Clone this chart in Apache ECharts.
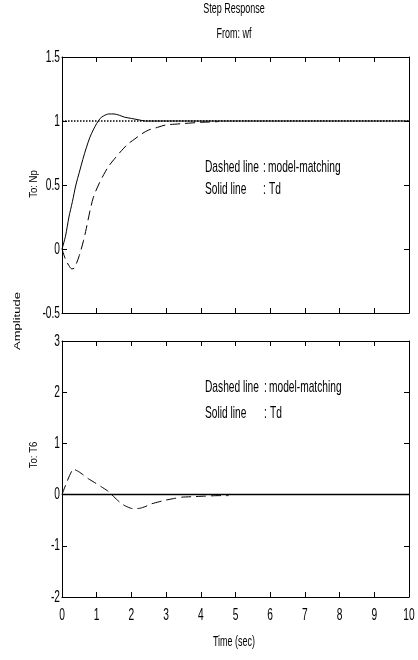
<!DOCTYPE html>
<html>
<head>
<meta charset="utf-8">
<script src="https://cdn.jsdelivr.net/npm/echarts@6/dist/echarts.min.js"></script>
<style>
  html, body { margin: 0; padding: 0; background: #fff; }
  #chart { width: 418px; height: 660px; }
</style>
</head>
<body>
<div id="chart"></div>
<script>
// top panel (To: Np)
var tdNpTime = [0, 0.1, 0.2, 0.3, 0.4, 0.5, 0.6, 0.7, 0.8, 0.9, 1.0, 1.1, 1.2, 1.35, 1.5, 1.65, 1.8, 2.0, 2.2, 2.4, 10];
var tdNpValue = [0, 0.1, 0.25, 0.37, 0.5, 0.6, 0.7, 0.79, 0.87, 0.93, 0.98, 1.02, 1.04, 1.055, 1.055, 1.045, 1.03, 1.02, 1.01, 1.0, 1.0];
var mmNpTime = [0, 0.1, 0.2, 0.28, 0.35, 0.42, 0.5, 0.62, 0.7, 0.8, 0.9, 1.05, 1.2, 1.34, 1.5, 1.72, 1.9, 2.1, 2.3, 2.5, 2.75, 3.0, 3.25, 3.5, 3.75, 4.0, 4.25, 4.5];
var mmNpValue = [0, -0.08, -0.13, -0.155, -0.15, -0.11, -0.05, 0.065, 0.16, 0.29, 0.4, 0.5, 0.58, 0.645, 0.7, 0.77, 0.82, 0.86, 0.9, 0.93, 0.95, 0.97, 0.975, 0.98, 0.985, 0.99, 0.992, 0.995];
var refNpTime = [0, 10];
var refNpValue = [1, 1];

// bottom panel (To: T6)
var tdT6Time = [0, 10];
var tdT6Value = [0, 0];
var mmT6Time = [0, 0.33, 0.5, 0.76, 1.0, 1.14, 1.3, 1.43, 1.6, 1.72, 1.85, 2.0, 2.15, 2.29, 2.45, 2.58, 2.8, 2.97, 3.2, 3.45, 3.8, 4.12, 4.5, 4.8];
var mmT6Value = [0, 0.5, 0.44, 0.31, 0.21, 0.15, 0.08, 0, -0.11, -0.18, -0.23, -0.27, -0.275, -0.26, -0.22, -0.18, -0.14, -0.11, -0.08, -0.05, -0.04, -0.03, -0.02, -0.02];

// tick values and their labels
var timeTicks = [0, 1, 2, 3, 4, 5, 6, 7, 8, 9, 10];
var timeTickLabels = ['0', '1', '2', '3', '4', '5', '6', '7', '8', '9', '10'];
var npTicks = [-0.5, 0, 0.5, 1, 1.5];
var npTickLabels = ['-0.5', '0', '0.5', '1', '1.5'];
var t6Ticks = [-2, -1, 0, 1, 2, 3];
var t6TickLabels = ['-2', '-1', '0', '1', '2', '3'];

var FONT = "'Liberation Sans', Arial, sans-serif";
var NARROW = 0.6;

function pairs(t, v) {
    var out = [];
    for (var i = 0; i < t.length; i++) out.push([t[i], v[i]]);
    return out;
}

function xAx(grid, pos) {
    return {
        type: 'value', gridIndex: grid, position: pos,
        min: timeTicks[0], max: timeTicks[timeTicks.length - 1], interval: 1,
        axisLine: {onZero: false, lineStyle: {color: '#000', width: 1}},
        axisTick: {inside: true, length: 5, lineStyle: {color: '#000'}},
        axisLabel: {show: false},
        splitLine: {show: false}
    };
}

function yAx(grid, pos, ticks) {
    return {
        type: 'value', gridIndex: grid, position: pos,
        min: ticks[0], max: ticks[ticks.length - 1], interval: ticks[1] - ticks[0],
        axisLine: {onZero: false, lineStyle: {color: '#000', width: 1}},
        axisTick: {inside: true, length: 5, lineStyle: {color: '#000'}},
        axisLabel: {show: false},
        splitLine: {show: false}
    };
}

function line(name, data, xi, yi, type, width, smooth) {
    return {
        name: name, type: 'line', data: data, xAxisIndex: xi, yAxisIndex: yi,
        showSymbol: false, symbol: 'none', smooth: smooth, animation: false,
        lineStyle: {color: '#000', width: width, type: type}
    };
}

// tall narrow text, like the squeezed original
function label(text, x, y, size, align, sx, rot, sy) {
    return {
        type: 'text', x: x, y: y, rotation: rot || 0, scaleX: sx, scaleY: sy || 1,
        style: {text: text, font: size + 'px ' + FONT, fill: '#000',
            textAlign: align, textVerticalAlign: 'middle'}
    };
}

var myChart = echarts.init(document.getElementById('chart'));
myChart.setOption({
    backgroundColor: '#fff',
    animation: false,
    grid: [
        {left: 62, right: 9, top: 57, height: 256},
        {left: 62, right: 9, top: 341, height: 256}
    ],
    xAxis: [xAx(0, 'bottom'), xAx(0, 'top'), xAx(1, 'bottom'), xAx(1, 'top')],
    yAxis: [yAx(0, 'left', npTicks), yAx(0, 'right', npTicks), yAx(1, 'left', t6Ticks), yAx(1, 'right', t6Ticks)],
    series: [
        line('ref', pairs(refNpTime, refNpValue), 0, 0, 'dotted', 1.5, false),
        line('Td', pairs(tdNpTime, tdNpValue), 0, 0, 'solid', 1, 0.3),
        line('model-matching', pairs(mmNpTime, mmNpValue), 0, 0, [10, 5], 1, 0.3),
        line('Td', pairs(tdT6Time, tdT6Value), 2, 2, 'solid', 1.5, false),
        line('model-matching', pairs(mmT6Time, mmT6Value), 2, 2, [10, 5], 1, 0.15)
    ]
});

var labels = [
    label('Step Response', 234, 9, 15, 'center', NARROW),
    label('From: wf', 234, 34, 15, 'center', NARROW),
    label('Time (sec)', 234, 642, 15, 'center', NARROW),
    label('Amplitude', 17, 321, 13, 'center', 1, Math.PI / 2, 0.75),
    label('To: Np', 34, 184, 12, 'center', 0.8, Math.PI / 2, 0.85),
    label('To: T6', 34, 455, 12, 'center', 0.8, Math.PI / 2, 0.85),
    label('Dashed line', 205, 167, 17, 'left', NARROW),
    label(':', 263, 167, 17, 'left', NARROW),
    label('model-matching', 268, 167, 17, 'left', NARROW),
    label('Solid line', 205, 189, 17, 'left', NARROW),
    label(':', 263, 189, 17, 'left', NARROW),
    label('Td', 269, 189, 17, 'left', NARROW),
    label('Dashed line', 205, 387, 17, 'left', NARROW),
    label(':', 264, 387, 17, 'left', NARROW),
    label('model-matching', 269, 387, 17, 'left', NARROW),
    label('Solid line', 205, 413, 17, 'left', NARROW),
    label(':', 264, 413, 17, 'left', NARROW),
    label('Td', 270, 413, 17, 'left', NARROW)
];

// tick labels placed through the grid scales
var i, p;
for (i = 0; i < timeTicks.length; i++) {
    p = myChart.convertToPixel({gridIndex: 1}, [timeTicks[i], t6Ticks[0]]);
    labels.push(label(timeTickLabels[i], p[0], p[1] + 18, 17, 'center', NARROW));
}
for (i = 0; i < npTicks.length; i++) {
    p = myChart.convertToPixel({gridIndex: 0}, [timeTicks[0], npTicks[i]]);
    labels.push(label(npTickLabels[i], p[0] - 2, p[1], 17, 'right', NARROW));
}
for (i = 0; i < t6Ticks.length; i++) {
    p = myChart.convertToPixel({gridIndex: 1}, [timeTicks[0], t6Ticks[i]]);
    labels.push(label(t6TickLabels[i], p[0] - 2, p[1], 17, 'right', NARROW));
}

myChart.setOption({graphic: labels});
</script>
</body>
</html>
